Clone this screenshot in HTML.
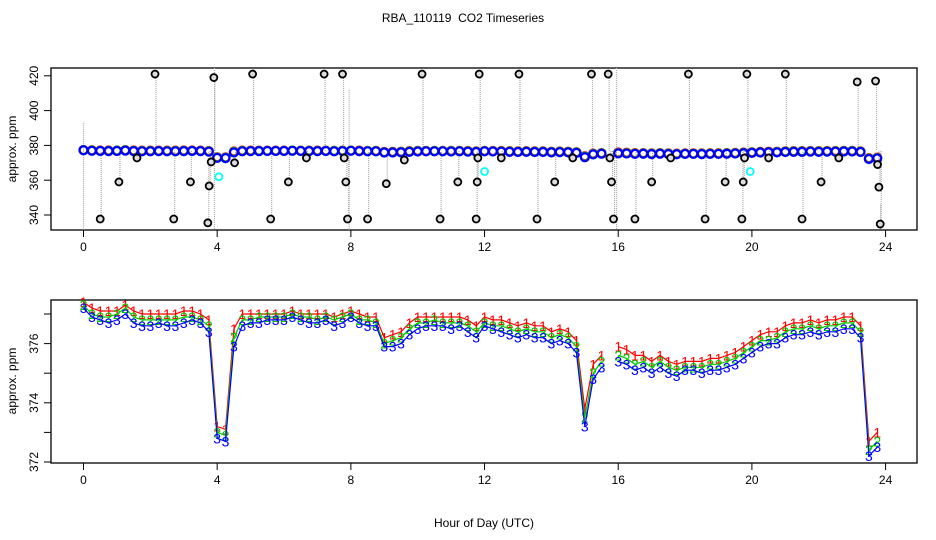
<!DOCTYPE html>
<html><head><meta charset="utf-8"><style>
body{margin:0;background:#fff}
svg{display:block;font-family:"Liberation Sans",sans-serif}
</style></head><body>
<svg id="c" width="936" height="540" viewBox="0 0 936 540">
<text x="463" y="22" font-size="12" text-anchor="middle" style="white-space:pre">RBA_110119  CO2 Timeseries</text>
<text x="484" y="527" font-size="12" text-anchor="middle">Hour of Day (UTC)</text>
<text transform="translate(16,149) rotate(-90)" font-size="12" text-anchor="middle">approx. ppm</text>
<text transform="translate(16,381) rotate(-90)" font-size="12" text-anchor="middle">approx. ppm</text>
<g id="top"></g>
<g id="bot"></g>
</svg>
<script>
const hours=[];for(let i=0;i<96;i++)hours.push(i*0.25);
const s3=[377.2,376.9,376.8,376.7,376.8,377.0,376.7,376.6,376.6,376.7,376.6,376.6,376.7,376.8,376.7,376.4,372.8,372.7,375.9,376.6,376.7,376.7,376.8,376.8,376.8,376.9,376.8,376.7,376.7,376.8,376.6,376.7,376.9,376.7,376.6,376.6,375.9,375.9,376.0,376.3,376.5,376.6,376.6,376.6,376.5,376.6,376.4,376.2,376.6,376.5,376.4,376.3,376.2,376.3,376.2,376.2,376.0,376.1,376.0,375.7,373.2,374.8,375.2,null,375.4,375.3,375.1,375.2,375.0,375.2,375.0,374.9,375.1,375.1,375.0,375.1,375.1,375.2,375.3,375.5,375.7,375.9,376.0,376.0,376.2,376.3,376.3,376.4,376.3,376.4,376.4,376.5,376.5,376.2,372.2,372.5];
const s2=[377.3,377.0,376.9,376.9,377.0,377.2,376.9,376.8,376.8,376.8,376.8,376.8,376.9,376.9,376.8,376.6,373.0,372.9,376.2,376.8,376.8,376.9,376.9,376.9,376.9,377.0,376.9,376.9,376.8,376.9,376.8,376.9,377.0,376.8,376.8,376.7,376.0,376.1,376.2,376.5,376.7,376.7,376.8,376.7,376.7,376.7,376.6,376.4,376.7,376.6,376.6,376.5,376.4,376.5,376.4,376.4,376.2,376.3,376.2,375.9,373.5,375.0,375.4,null,375.6,375.5,375.3,375.4,375.2,375.4,375.2,375.1,375.2,375.2,375.2,375.3,375.3,375.4,375.5,375.7,375.9,376.1,376.1,376.2,376.4,376.5,376.5,376.6,376.5,376.6,376.6,376.7,376.7,376.4,372.4,372.7];
const s1=[377.4,377.2,377.1,377.1,377.1,377.3,377.1,377.0,377.0,377.0,377.0,377.0,377.1,377.1,377.0,376.8,373.2,373.1,376.5,377.0,377.0,377.0,377.0,377.0,377.0,377.1,377.0,377.0,377.0,377.0,376.9,377.0,377.1,377.0,376.9,376.9,376.2,376.3,376.4,376.7,376.9,376.9,376.9,376.9,376.9,376.9,376.8,376.6,376.9,376.8,376.8,376.7,376.6,376.7,376.6,376.6,376.4,376.5,376.4,376.1,373.8,375.3,375.6,null,375.9,375.8,375.6,375.6,375.4,375.6,375.4,375.3,375.4,375.4,375.4,375.5,375.5,375.6,375.7,375.9,376.1,376.3,376.4,376.4,376.6,376.7,376.7,376.8,376.7,376.8,376.8,376.9,376.9,376.6,372.7,373.0];
const outH=[0.5,1.06,1.6,2.14,2.7,3.2,3.72,3.76,3.82,3.9,4.52,5.06,5.6,6.13,6.67,7.2,7.75,7.8,7.85,7.9,8.5,9.06,9.6,10.13,10.67,11.2,11.75,11.78,11.8,11.84,12.5,13.03,13.57,14.1,14.64,15.2,15.7,15.75,15.8,15.86,16.5,17.0,17.57,18.1,18.6,19.2,19.7,19.74,19.78,19.85,20.5,21.0,21.5,22.07,22.6,23.15,23.7,23.76,23.8,23.84];
const outV=[337.7,359,372.8,421,337.7,359,335.5,356.7,370.5,419,370,421,337.7,359,372.8,421,421,372.8,359,337.7,337.7,358,371.6,421,337.7,359,337.7,359,372.8,421,372.8,421,337.7,359,372.8,421,421,372.8,359,337.7,337.7,359,372.8,421,337.7,359,337.7,359,372.8,421,372.8,421,337.7,359,372.8,416.5,417,369,356,334.8];
const cyanH=[4.05,12.0,19.95];
const cyanV=[362,365,365];
const topTicks=[340,360,380,400,420];
const botTicks=[372,373,374,375,376,377];
const botLabels=[372,374,376];
const xTicks=[0,4,8,12,16,20,24];

const NS='http://www.w3.org/2000/svg';
function mk(p,t,a){const e=document.createElementNS(NS,t);for(const k in a)e.setAttribute(k,a[k]);p.appendChild(e);return e;}
const xS=h=>83.5+h*33.42;
const yT=v=>215-(v-340)*1.74;
const yB=v=>462-(v-372)*29.6;
const gTop=document.getElementById('top'),gBot=document.getElementById('bot');

function axes(g,y0,y1,name,ticks,yf,labels){
  const b=mk(g,'rect',{x:51,y:y0,width:866,height:y1-y0,fill:'none',stroke:'#000','stroke-width':1.3});
  
  
  xTicks.forEach(t=>{
    const l=mk(g,'line',{x1:xS(t),x2:xS(t),y1:y1,y2:y1+7,stroke:'#000'});
    
    
    const tx=mk(g,'text',{x:xS(t),y:y1+21,'font-size':12,'text-anchor':'middle'});
    tx.textContent=t;
    
    
  });
  ticks.forEach(t=>{
    const l=mk(g,'line',{x1:44,x2:51,y1:yf(t),y2:yf(t),stroke:'#000'});
    
    
  });
  labels.forEach(t=>{
    const tx=mk(g,'text',{transform:`translate(38,${yf(t)}) rotate(-90)`,'font-size':12,'text-anchor':'middle'});
    tx.textContent=t;
    
    
  });
}
axes(gTop,68,230,'top',topTicks,yT,topTicks);
axes(gBot,300,463,'bottom',botTicks,yB,botLabels);

outH.forEach((h,i)=>{
  const l=mk(gTop,'line',{x1:xS(h)+1,x2:xS(h)+1,y1:yT(outV[i]),y2:yT(377),stroke:'#aaa','stroke-width':1.2,'stroke-dasharray':'1,1'});
  
  
});
[[0,393,330],[3.92,430,330],[7.95,412,330],[15.95,430,330],[23.85,346,330]].forEach(d=>{
  const l=mk(gTop,'line',{x1:xS(d[0]),x2:xS(d[0]),y1:Math.max(68,yT(d[1])),y2:Math.min(230,yT(d[2])),stroke:'#aaa','stroke-width':1.2,'stroke-dasharray':'1,1'});
  
  
});
[[s1,'#f00','series-1'],[s2,'#0c0','series-2'],[s3,'#00f','series-3']].forEach(([s,c,n])=>{
  const g=mk(gTop,'g',{});
  
  
  s.forEach((v,i)=>{ if(v==null)return;
    const e=mk(g,'circle',{cx:xS(hours[i]),cy:yT(v),r:4,fill:'none',stroke:c,'stroke-width':2.2});
    
    
  });
});
outH.forEach((h,i)=>{
  const e=mk(gTop,'circle',{cx:xS(h),cy:yT(outV[i]),r:3.5,fill:'#ddd',stroke:'#000','stroke-width':1.8});
  
  
});
cyanH.forEach((h,i)=>{
  const e=mk(gTop,'circle',{cx:xS(h),cy:yT(cyanV[i]),r:3.5,fill:'none',stroke:'#0ff','stroke-width':1.8});
  
  
});
[[s1,'#f00','1','series-1'],[s2,'#0c0','2','series-2'],[s3,'#00f','3','series-3']].forEach(([s,c,ch,n])=>{
  const g=mk(gBot,'g',{});
  
  
  let d='',pen=false;
  s.forEach((v,i)=>{ if(v==null){pen=false;return;}
    d+=(pen?'L':'M')+xS(hours[i]).toFixed(1)+','+yB(v).toFixed(1);pen=true;});
  const p=mk(g,'path',{d:d,fill:'none',stroke:c,'stroke-width':1.2});
  
  
  s.forEach((v,i)=>{ if(v==null)return;
    const t=mk(g,'text',{x:xS(hours[i]),y:yB(v)+5,'font-size':14,'text-anchor':'middle',fill:c});
    t.textContent=ch;
    
    
  });
});
</script>
</body></html>
